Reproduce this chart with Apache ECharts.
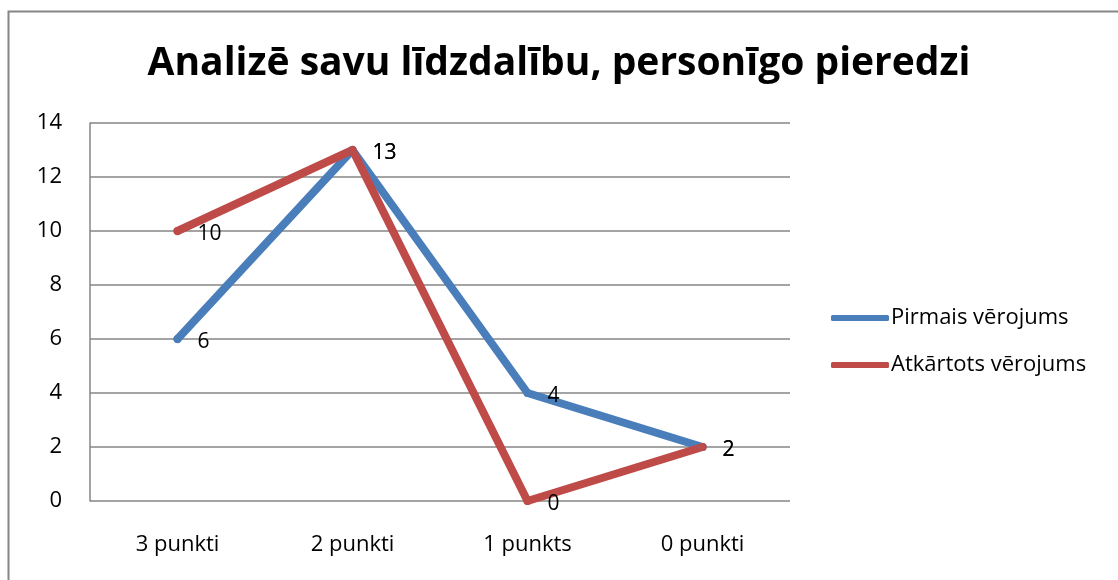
<!DOCTYPE html>
<html>
<head>
    <meta charset="utf-8">
    <title>ECharts</title>
    <script src="https://cdn.jsdelivr.net/npm/echarts@6/dist/echarts.min.js"></script>
</head>
<body style="margin:0">
<div id="main" style="width: 1118px;height:580px;"></div>
<script type="text/javascript">
    // dati
    var categories = ['3 punkti', '2 punkti', '1 punkts', '0 punkti'];
    var pirmais = [6, 13, 4, 2];
    var atkartots = [10, 13, 0, 2];
    var seriesNames = ['Pirmais vērojums', 'Atkārtots vērojums'];

    var font = '"Open Sans", "Noto Sans", sans-serif';
    var myChart = echarts.init(document.getElementById('main'));

    function lineSeries(name, data, color) {
        return {
            name: name,
            type: 'line',
            data: data,
            symbol: 'circle',
            symbolSize: 8,
            itemStyle: { color: color },
            lineStyle: { width: 8, color: color, cap: 'round', join: 'round' },
            label: {
                show: true,
                position: 'right',
                distance: 16,
                offset: [0, 3],
                color: '#000',
                fontSize: 21,
                fontFamily: font
            },
            emphasis: { disabled: true },
            animation: false
        };
    }

    myChart.setOption({
        backgroundColor: '#fff',
        graphic: [{
            type: 'rect',
            shape: { x: 8.5, y: 11.5, width: 1200, height: 700 },
            style: { fill: 'none', stroke: '#868686', lineWidth: 2 }
        }],
        title: {
            text: 'Analizē savu līdzdalību, personīgo pieredzi',
            left: 'center',
            top: 39,
            textStyle: { fontSize: 39, fontWeight: 'bold', color: '#000', fontFamily: font }
        },
        legend: {
            orient: 'vertical',
            left: 826,
            top: 302,
            itemWidth: 58,
            itemHeight: 6,
            itemGap: 25,
            icon: 'roundRect',
            data: seriesNames,
            textStyle: { fontSize: 22, color: '#000', fontFamily: font, padding: [0, 0, 0, -3] }
        },
        grid: { left: 90, right: 328, top: 123, bottom: 79 },
        xAxis: {
            type: 'category',
            data: categories,
            boundaryGap: true,
            axisLine: { show: false },
            axisTick: { show: false },
            axisLabel: { color: '#000', fontSize: 22, fontFamily: font, margin: 33 }
        },
        yAxis: {
            type: 'value',
            min: 0,
            max: 14,
            interval: 2,
            axisLine: { show: true, lineStyle: { color: '#868686', width: 1.5 } },
            axisTick: { show: false },
            axisLabel: { color: '#000', fontSize: 22, fontFamily: font, margin: 28 },
            splitLine: { lineStyle: { color: '#868686', width: 1.5 } }
        },
        series: [
            lineSeries(seriesNames[0], pirmais, '#4A7EBB'),
            lineSeries(seriesNames[1], atkartots, '#BE4B48')
        ]
    });
</script>
</body>
</html>
